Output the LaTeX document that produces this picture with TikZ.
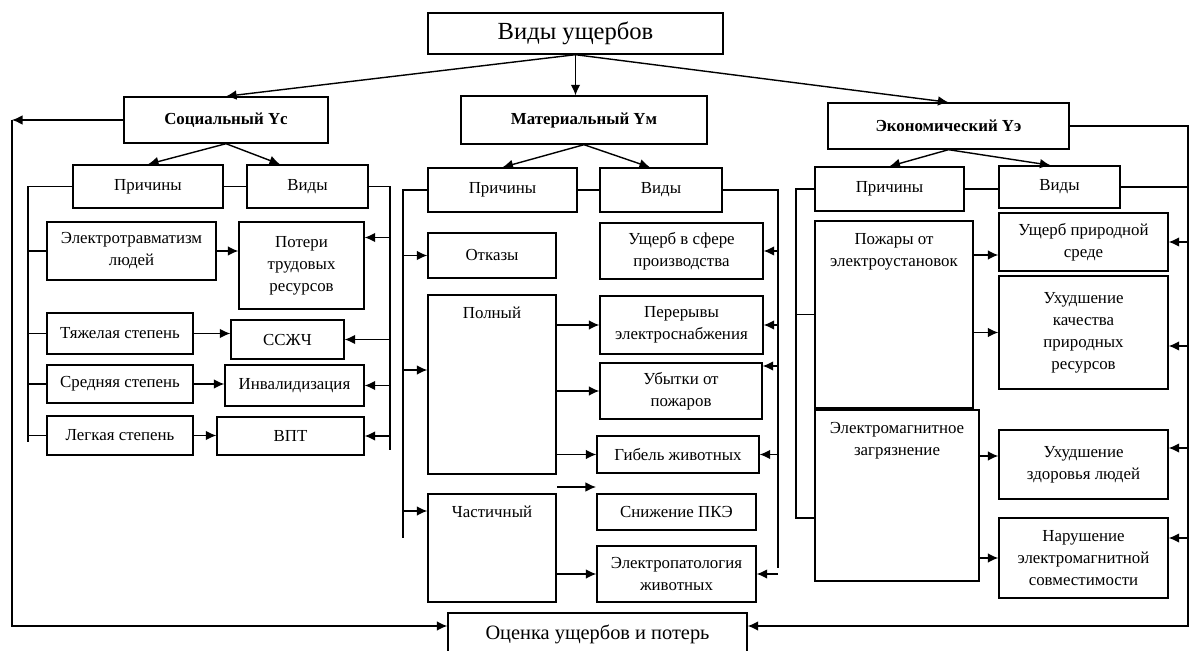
\documentclass[tikz,border=0pt]{standalone}
\usepackage{fontspec}
\setmainfont{Liberation Serif}
\usetikzlibrary{arrows.meta}

\begin{document}
\begin{tikzpicture}[x=0.02cm, y=-0.02cm, >={Latex[length=6pt,width=5.5pt]},
        blocco/.style={draw, line width=0.8pt, inner sep=1pt, align=center, font=\fontsize{9.6}{12.5}\selectfont},
        titolo/.style={blocco, font=\fontsize{9.6}{12.5}\selectfont\bfseries},
        sopra/.style={anchor=north, yshift=-0.24cm, inner sep=0pt, align=center, font=\fontsize{9.6}{12.5}\selectfont},
        linea/.style={line width=0.8pt}]
        \useasboundingbox (0,0) rectangle (1189,651);

        % Blocchi principali
        \node[blocco, minimum width=5.90cm, minimum height=0.82cm, font=\fontsize{14}{16}\selectfont] (tipi) at (575.5,33.5) {Виды ущербов};
        \node[titolo, minimum width=4.08cm, minimum height=0.92cm] (soc) at (226,120) {Социальный Yс};
        \node[titolo, minimum width=4.92cm, minimum height=0.96cm] (mat) at (584,120) {Материальный Yм};
        \node[titolo, minimum width=4.82cm, minimum height=0.92cm] (eco) at (948.5,126) {Экономический Yэ};
        \node[blocco, minimum width=5.98cm, minimum height=0.84cm, font=\fontsize{11.6}{14}\selectfont] (val) at (597.5,634) {Оценка ущербов и потерь};

        % Blocchi sociali
        \node[blocco, minimum width=3.00cm, minimum height=0.86cm] (scause) at (148,186.5) {Причины};
        \node[blocco, minimum width=2.42cm, minimum height=0.86cm] (stype) at (307.5,186.5) {Виды};
        \node[blocco, minimum width=3.38cm, minimum height=1.16cm] (strauma) at (131.5,251) {Электротравматизм\\людей};
        \node[blocco, minimum width=2.50cm, minimum height=1.74cm] (slabor) at (301.5,265.5) {Потери\\трудовых\\ресурсов};
        \node[blocco, minimum width=2.92cm, minimum height=0.82cm] (sheavy) at (120,333.5) {Тяжелая степень};
        \node[blocco, minimum width=2.26cm, minimum height=0.78cm] (sccz) at (287.5,339.5) {ССЖЧ};
        \node[blocco, minimum width=2.92cm, minimum height=0.76cm] (smed) at (120,384) {Средняя степень};
        \node[blocco, minimum width=2.78cm, minimum height=0.82cm] (sinv) at (294.5,385.5) {Инвалидизация};
        \node[blocco, minimum width=2.92cm, minimum height=0.78cm] (slight) at (120,435.5) {Легкая степень};
        \node[blocco, minimum width=2.94cm, minimum height=0.76cm] (svpt) at (290.5,436) {ВПТ};

        % Blocchi materiali
        \node[blocco, minimum width=2.98cm, minimum height=0.88cm] (mcause) at (502.5,190) {Причины};
        \node[blocco, minimum width=2.44cm, minimum height=0.88cm] (mtype) at (661,190) {Виды};
        \node[blocco, minimum width=2.56cm, minimum height=0.90cm] (mfail) at (492,255.5) {Отказы};
        \node[blocco, minimum width=2.56cm, minimum height=3.58cm, label={[sopra]north:Полный}] (mfull) at (492,384.5) {};
        \node[blocco, minimum width=2.56cm, minimum height=2.16cm, label={[sopra]north:Частичный}] (mpart) at (492,548) {};
        \node[blocco, minimum width=3.26cm, minimum height=1.12cm] (mprod) at (681.5,251) {Ущерб в сфере\\производства};
        \node[blocco, minimum width=3.26cm, minimum height=1.16cm] (mint) at (681.5,325) {Перерывы\\электроснабжения};
        \node[blocco, minimum width=3.24cm, minimum height=1.12cm] (mfire) at (681,391) {Убытки от\\пожаров};
        \node[blocco, minimum width=3.24cm, minimum height=0.74cm] (mdeath) at (678,454.5) {Гибель животных};
        \node[blocco, minimum width=3.18cm, minimum height=0.72cm] (mpqe) at (676.5,512) {Снижение ПКЭ};
        \node[blocco, minimum width=3.18cm, minimum height=1.12cm] (mpath) at (676.5,574) {Электропатология\\животных};

        % Blocchi economici
        \node[blocco, minimum width=2.98cm, minimum height=0.88cm] (ecause) at (889.5,189) {Причины};
        \node[blocco, minimum width=2.42cm, minimum height=0.84cm] (etype) at (1059.5,187) {Виды};
        \node[blocco, minimum width=3.16cm, minimum height=3.74cm, label={[sopra, yshift=-0.02cm]north:Пожары от\\электроустановок}] (efire) at (894,314.5) {};
        \node[blocco, minimum width=3.28cm, minimum height=3.42cm, label={[sopra, yshift=-0.02cm]north:Электромагнитное\\загрязнение}] (eemc) at (897,495.5) {};
        \node[blocco, minimum width=3.38cm, minimum height=1.16cm] (enat) at (1083.5,242) {Ущерб природной\\среде};
        \node[blocco, minimum width=3.38cm, minimum height=2.26cm] (equal) at (1083.5,332.5) {Ухудшение\\качества\\природных\\ресурсов};
        \node[blocco, minimum width=3.38cm, minimum height=1.38cm] (ehealth) at (1083.5,464.5) {Ухудшение\\здоровья людей};
        \node[blocco, minimum width=3.38cm, minimum height=1.60cm] (ecompat) at (1083.5,558) {Нарушение\\электромагнитной\\совместимости};

        % Punti delle linee
        \coordinate (lbot) at (12,626);
        \coordinate (rbot) at (1188,626);
        \coordinate (sl1) at (28,186.5);
        \coordinate (sl2) at (28,442);
        \coordinate (sr1) at (390,186.5);
        \coordinate (sr2) at (390,450);
        \coordinate (ml1) at (403,190);
        \coordinate (ml2) at (403,538);
        \coordinate (mr1) at (778,190);
        \coordinate (mr2) at (778,568);
        \coordinate (el1) at (796,189);
        \coordinate (el2) at (796,518);
        \coordinate (er1) at (1188,187);
        \coordinate (er2) at (1188,540);
        \coordinate (fa1) at (557,487);
        \coordinate (fa2) at (596,487);
        \coordinate (slaborR) at ([yshift=0.56cm]slabor.east);
        \coordinate (mfullL) at ([yshift=0.29cm]mfull.west);
        \coordinate (mpartL) at ([yshift=0.74cm]mpart.west);
        \coordinate (mfireR) at ([yshift=0.50cm]mfire.east);
        \coordinate (enatL) at ([yshift=-0.26cm]enat.west);
        \coordinate (equalR) at ([yshift=-0.27cm]equal.east);
        \coordinate (ehealthL) at ([yshift=0.17cm]ehealth.west);
        \coordinate (ehealthR) at ([yshift=0.33cm]ehealth.east);
        \coordinate (ecompatR) at ([yshift=0.40cm]ecompat.east);
        \coordinate (valL) at (lbot -| val.west);
        \coordinate (valR) at (rbot -| val.east);

        % Collegamenti principali
        \draw[linea, ->] (tipi.south) -- (soc.north);
        \draw[linea, ->] (tipi.south) -- (tipi.south |- mat.north);
        \draw[linea, ->] (tipi.south) -- (eco.north);
        \draw[linea, ->] (soc.west) -- (soc.west -| lbot);
        \draw[linea, ->] (soc.west -| lbot) -- (lbot) -- (valL);
        \draw[linea, ->] (eco.east) -- (eco.east -| rbot) -- (rbot) -- (valR);

        % Collegamenti sociali
        \draw[linea, ->] (soc.south) -- (scause.north);
        \draw[linea, ->] (soc.south) -- ([xshift=-0.55cm]stype.north);
        \draw[linea] (scause.east) -- (stype.west);
        \draw[linea] (scause.west) -- (sl1) -- (sl2);
        \draw[linea] (stype.east) -- (sr1) -- (sr2);
        \draw[linea] (strauma.west -| sl1) -- (strauma.west);
        \draw[linea] (sheavy.west -| sl1) -- (sheavy.west);
        \draw[linea] (smed.west -| sl1) -- (smed.west);
        \draw[linea] (slight.west -| sl1) -- (slight.west);
        \draw[linea, ->] (strauma.east) -- (strauma.east -| slabor.west);
        \draw[linea, ->] (sheavy.east) -- (sheavy.east -| sccz.west);
        \draw[linea, ->] (smed.east) -- (smed.east -| sinv.west);
        \draw[linea, ->] (slight.east) -- (slight.east -| svpt.west);
        \draw[linea, ->] (slaborR -| sr1) -- (slaborR);
        \draw[linea, ->] (sccz.east -| sr1) -- (sccz.east);
        \draw[linea, ->] (sinv.east -| sr1) -- (sinv.east);
        \draw[linea, ->] (svpt.east -| sr1) -- (svpt.east);

        % Collegamenti materiali
        \draw[linea, ->] (mat.south) -- (mcause.north);
        \draw[linea, ->] (mat.south) -- ([xshift=-0.22cm]mtype.north);
        \draw[linea] (mcause.east) -- (mtype.west);
        \draw[linea] (mcause.west) -- (ml1) -- (ml2);
        \draw[linea] (mtype.east) -- (mr1) -- (mr2);
        \draw[linea, ->] (mfail.west -| ml1) -- (mfail.west);
        \draw[linea, ->] (mfullL -| ml1) -- (mfullL);
        \draw[linea, ->] (mpartL -| ml1) -- (mpartL);
        \draw[linea, ->] (mint.west -| mfull.east) -- (mint.west);
        \draw[linea, ->] (mfire.west -| mfull.east) -- (mfire.west);
        \draw[linea, ->] (mdeath.west -| mfull.east) -- (mdeath.west);
        \draw[linea, ->] (fa1) -- (fa2);
        \draw[linea, ->] (mpath.west -| mpart.east) -- (mpath.west);
        \draw[linea, ->] (mprod.east -| mr1) -- (mprod.east);
        \draw[linea, ->] (mint.east -| mr1) -- (mint.east);
        \draw[linea, ->] (mfireR -| mr1) -- (mfireR);
        \draw[linea, ->] (mdeath.east -| mr1) -- (mdeath.east);
        \draw[linea, ->] (mpath.east -| mr1) -- (mpath.east);

        % Collegamenti economici
        \draw[linea, ->] (eco.south) -- (ecause.north);
        \draw[linea, ->] (eco.south) -- ([xshift=-0.18cm]etype.north);
        \draw[linea] (ecause.east) -- (ecause.east -| etype.west);
        \draw[linea] (ecause.west) -- (el1) -- (el2) -- (el2 -| eemc.west);
        \draw[linea] (efire.west -| el1) -- (efire.west);
        \draw[linea] (etype.east) -- (er1) -- (er2);
        \draw[linea, ->] (enatL -| efire.east) -- (enatL);
        \draw[linea, ->] (equal.west -| efire.east) -- (equal.west);
        \draw[linea, ->] (ehealthL -| eemc.east) -- (ehealthL);
        \draw[linea, ->] (ecompat.west -| eemc.east) -- (ecompat.west);
        \draw[linea, ->] (enat.east -| er1) -- (enat.east);
        \draw[linea, ->] (equalR -| er1) -- (equalR);
        \draw[linea, ->] (ehealthR -| er1) -- (ehealthR);
        \draw[linea, ->] (ecompatR -| er1) -- (ecompatR);
    \end{tikzpicture}
\end{document}
